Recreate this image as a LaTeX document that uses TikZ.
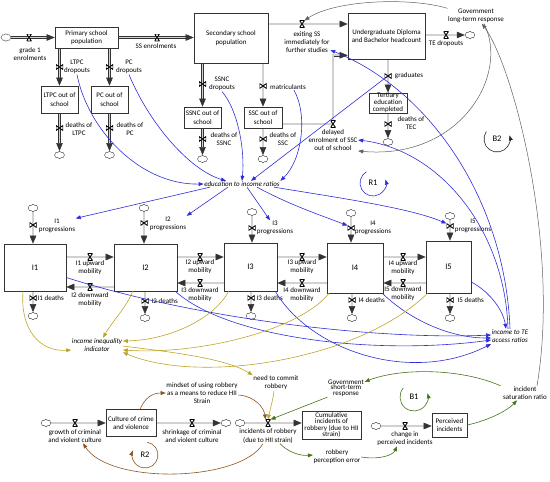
\documentclass[tikz,border=0pt]{standalone}
\usepackage{fontspec}
\setmainfont{Carlito}
\usetikzlibrary{arrows.meta,shapes.symbols,backgrounds}
\definecolor{edublue}{RGB}{45,45,215}
\definecolor{ineqolive}{RGB}{190,165,40}
\definecolor{crimebrown}{RGB}{140,85,30}
\definecolor{respgreen}{RGB}{70,115,25}
\definecolor{govgrey}{RGB}{95,95,95}

\begin{document}
\begin{tikzpicture}[x=1pt, y=-1pt,
  stock/.style={draw=black!80, line width=0.6pt, align=center, inner sep=0pt, font=\fontsize{7}{8.3}\selectfont},
  level/.style={stock, font=\fontsize{8.5}{10}\selectfont},
  lbl/.style={align=center, inner sep=0.5pt, font=\fontsize{7}{8.2}\selectfont},
  aux/.style={lbl, font=\fontsize{7}{8.2}\selectfont\itshape},
  sinkcloud/.style={cloud, cloud puffs=8, cloud puff arc=130, aspect=1.3, draw=black!75, line width=0.4pt, fill=white, minimum width=10pt, minimum height=7.5pt, inner sep=0pt},
  pipe/.style={draw=black!80, line width=0.5pt, double=black!18, double distance=1.9pt, -{Triangle[length=8pt,width=6.5pt]}},
  hvalve/.style={minimum width=5pt, minimum height=7pt, inner sep=0pt, outer sep=0pt,
    path picture={\filldraw[fill=white, draw=black, line width=0.9pt] (path picture bounding box.north west) -- (path picture bounding box.north east) -- (path picture bounding box.south west) -- (path picture bounding box.south east) -- cycle;}},
  vvalve/.style={minimum width=7pt, minimum height=5pt, inner sep=0pt, outer sep=0pt,
    path picture={\filldraw[fill=white, draw=black, line width=0.9pt] (path picture bounding box.north west) -- (path picture bounding box.south west) -- (path picture bounding box.north east) -- (path picture bounding box.south east) -- cycle;}},
  infl/.style={line width=0.6pt, -{Triangle[length=5pt,width=3.8pt]}},
  loopname/.style={font=\fontsize{8.5}{10}\selectfont, inner sep=1pt}
]
\useasboundingbox (0,0) rectangle (550,482);

% Loop circle radius
\def\rl{13pt}

% Education stocks
\node[stock, minimum width=63pt, minimum height=21pt] (pss) at (86.5,37.5) {Primary school\\population};
\node[stock, minimum width=74pt, minimum height=50pt] (ssp) at (231,38) {Secondary school\\population};
\node[stock, minimum width=77pt, minimum height=46pt] (ugb) at (386.5,36) {Undergraduate Diploma\\and Bachelor headcount};
\node[stock, minimum width=37pt, minimum height=27pt] (ltpc) at (59.5,99.5) {LTPC out of\\school};
\node[stock, minimum width=37pt, minimum height=27pt] (pcos) at (109.5,99.5) {PC out of\\school};
\node[stock, minimum width=37pt, minimum height=21pt] (ssnc) at (202.5,117.5) {SSNC out of\\school};
\node[stock, minimum width=38pt, minimum height=21pt] (sscos) at (263,117.5) {SSC out of\\school};
\node[stock, minimum width=38pt, minimum height=20pt, font=\fontsize{7}{7}\selectfont] (tec) at (388,103) {Tertiary\\education\\completed};

% Income level stocks
\node[level, minimum width=62pt, minimum height=47pt] (i1) at (35,267.5) {I1};
\node[level, minimum width=63pt, minimum height=47pt] (i2) at (145.5,267.5) {I2};
\node[level, minimum width=53pt, minimum height=48pt] (i3) at (250.5,267) {I3};
\node[level, minimum width=56pt, minimum height=50pt] (i4) at (355,268) {I4};
\node[level, minimum width=45pt, minimum height=52pt] (i5) at (448.5,267) {I5};

% Crime stocks
\node[stock, minimum width=50pt, minimum height=27pt] (ccv) at (131,423) {Culture of crime\\and violence};
\node[stock, minimum width=59pt, minimum height=28pt, font=\fontsize{7}{6.4}\selectfont] (cir) at (331.5,425) {Cumulative\\incidents of\\robbery (due to HII\\strain)};
\node[stock, minimum width=35pt, minimum height=24pt] (pinc) at (449.5,425) {Perceived\\incidents};

% Clouds
\node[sinkcloud] (c-g1) at (6,37.5) {};
\node[sinkcloud] (c-ted) at (470,35) {};
\node[sinkcloud] (c-dltpc) at (59.5,155) {};
\node[sinkcloud] (c-dpc) at (109.5,155) {};
\node[sinkcloud] (c-dssnc) at (202.5,159) {};
\node[sinkcloud] (c-dssc) at (263,159) {};
\node[sinkcloud] (c-dtec) at (388,142) {};
\node[sinkcloud] (c-i1p) at (33,208) {};
\node[sinkcloud] (c-i2p) at (144,208) {};
\node[sinkcloud] (c-i3p) at (252,212) {};
\node[sinkcloud] (c-i4p) at (351,213) {};
\node[sinkcloud] (c-i5p) at (450,216) {};
\node[sinkcloud] (c-i1x) at (33,316) {};
\node[sinkcloud] (c-i2x) at (145,318) {};
\node[sinkcloud] (c-i3x) at (251,316) {};
\node[sinkcloud] (c-i4x) at (352,318) {};
\node[sinkcloud] (c-i5x) at (450,318) {};
\node[sinkcloud] (c-gcv) at (46,423) {};
\node[sinkcloud] (c-scv) at (226,423) {};
\node[sinkcloud] (c-inc) at (240,423) {};
\node[sinkcloud] (c-cpi) at (376,426) {};

% Valves
\node[hvalve] (v-g1) at (29,37.5) {};
\node[hvalve] (v-ss) at (157,37.5) {};
\node[hvalve] (v-exit) at (302,24) {};
\node[hvalve] (v-ted) at (446,35) {};
\node[vvalve] (v-ltpcd) at (59.5,67) {};
\node[vvalve] (v-pcd) at (109.5,67) {};
\node[vvalve] (v-dltpc) at (59.5,128) {};
\node[vvalve] (v-dpc) at (109.5,128) {};
\node[vvalve] (v-ssncd) at (202.5,84) {};
\node[vvalve] (v-matr) at (263,86) {};
\node[vvalve] (v-dssnc) at (202.5,139) {};
\node[vvalve] (v-dssc) at (263,139) {};
\node[hvalve] (v-del) at (333,124) {};
\node[vvalve] (v-grad) at (388,76) {};
\node[vvalve] (v-dtec) at (388,124) {};
\node[vvalve] (v-i1p) at (33,225) {};
\node[vvalve] (v-i2p) at (144,223) {};
\node[vvalve] (v-i3p) at (252,228) {};
\node[vvalve] (v-i4p) at (351,228) {};
\node[vvalve] (v-i5p) at (450,226) {};
\node[hvalve] (v-i1u) at (90,257) {};
\node[hvalve] (v-i2d) at (90,287) {};
\node[hvalve] (v-i2u) at (200,257) {};
\node[hvalve] (v-i3d) at (200,283) {};
\node[hvalve] (v-i3u) at (302,257) {};
\node[hvalve] (v-i4d) at (302,283) {};
\node[hvalve] (v-i4u) at (403,257) {};
\node[hvalve] (v-i5d) at (403,283) {};
\node[vvalve] (v-i1x) at (33,298) {};
\node[vvalve] (v-i2x) at (145,301) {};
\node[vvalve] (v-i3x) at (251,298) {};
\node[vvalve] (v-i4x) at (352,300) {};
\node[vvalve] (v-i5x) at (450,300) {};
\node[hvalve] (v-gcv) at (75,423) {};
\node[hvalve] (v-scv) at (192,423) {};
\node[hvalve] (v-inc) at (268,423) {};
\node[hvalve] (v-cpi) at (405,426) {};

% Pipes
\begin{scope}[on background layer]
\draw[pipe] (c-g1.east) -- (pss.west |- c-g1);
\draw[pipe] (pss.east |- v-ss) -- (ssp.west |- v-ss);
\draw[pipe] (ssp.east |- v-exit) -- (ugb.west |- v-exit);
\draw[pipe] (ugb.east |- v-ted) -- (c-ted.west);
\draw[pipe] (pss.south -| v-ltpcd) -- (ltpc.north);
\draw[pipe] (pss.south -| v-pcd) -- (pcos.north);
\draw[pipe] (ltpc.south) -- (c-dltpc.north);
\draw[pipe] (pcos.south) -- (c-dpc.north);
\draw[pipe] (ssp.south -| v-ssncd) -- (ssnc.north);
\draw[pipe] (ssp.south -| v-matr) -- (sscos.north);
\draw[pipe] (ssnc.south) -- (c-dssnc.north);
\draw[pipe] (sscos.south) -- (c-dssc.north);
\coordinate (ugb-in) at ([yshift=4pt]ugb.south west);
\draw[pipe] (sscos.east |- v-del) -- (v-del.center) -- (v-del.center |- ugb-in) -- (ugb-in);
\draw[pipe] (ugb.south -| v-grad) -- (tec.north);
\draw[pipe] (tec.south) -- (c-dtec.north);
\draw[pipe] (c-i1p.south) -- (i1.north -| c-i1p);
\draw[pipe] (c-i2p.south) -- (i2.north -| c-i2p);
\draw[pipe] (c-i3p.south) -- (i3.north -| c-i3p);
\draw[pipe] (c-i4p.south) -- (i4.north -| c-i4p);
\draw[pipe] (c-i5p.south) -- (i5.north -| c-i5p);
\draw[pipe] (i1.east |- v-i1u) -- (i2.west |- v-i1u);
\draw[pipe] (i2.west |- v-i2d) -- (i1.east |- v-i2d);
\draw[pipe] (i2.east |- v-i2u) -- (i3.west |- v-i2u);
\draw[pipe] (i3.west |- v-i3d) -- (i2.east |- v-i3d);
\draw[pipe] (i3.east |- v-i3u) -- (i4.west |- v-i3u);
\draw[pipe] (i4.west |- v-i4d) -- (i3.east |- v-i4d);
\draw[pipe] (i4.east |- v-i4u) -- (i5.west |- v-i4u);
\draw[pipe] (i5.west |- v-i5d) -- (i4.east |- v-i5d);
\draw[pipe] (i1.south -| c-i1x) -- (c-i1x.north);
\draw[pipe] (i2.south -| c-i2x) -- (c-i2x.north);
\draw[pipe] (i3.south -| c-i3x) -- (c-i3x.north);
\draw[pipe] (i4.south -| c-i4x) -- (c-i4x.north);
\draw[pipe] (i5.south -| c-i5x) -- (c-i5x.north);
\draw[pipe] (c-gcv.east) -- (ccv.west |- c-gcv);
\draw[pipe] (ccv.east |- c-scv) -- (c-scv.west);
\draw[pipe] (c-inc.east) -- (cir.west |- c-inc);
\draw[pipe] (c-cpi.east) -- (pinc.west |- c-cpi);
\end{scope}

% Flow labels
\node[lbl] (l-g1) at (30,54) {grade 1\\enrolments};
\node[lbl] (l-ss) at (156,46) {SS enrolments};
\node[lbl] (l-exit) at (307,42) {exiting SS\\immediately for\\further studies};
\node[lbl] (l-ted) at (446,44) {TE dropouts};
\node[lbl] (l-ltpcd) at (77,67) {LTPC\\dropouts};
\node[lbl] (l-pcd) at (129,67) {PC\\dropouts};
\node[lbl] (l-dltpc) at (79,129) {deaths of\\LTPC};
\node[lbl] (l-dpc) at (130,129) {deaths of\\PC};
\node[lbl] (l-ssncd) at (222,84) {SSNC\\dropouts};
\node[lbl] (l-matr) at (288,87) {matriculants};
\node[lbl] (l-dssnc) at (224,139) {deaths of\\SSNC};
\node[lbl] (l-dssc) at (283,139) {deaths of\\SSC};
\node[lbl] (l-del) at (333,140) {delayed\\enrolment of SSC\\out of school};
\node[lbl] (l-grad) at (409,76) {graduates};
\node[lbl] (l-dtec) at (411,123) {deaths of\\TEC};
\node[lbl] (l-i1p) at (57,226) {I1\\progressions};
\node[lbl] (l-i2p) at (168,223.5) {I2\\progressions};
\node[lbl] (l-i3p) at (275,228) {I3\\progressions};
\node[lbl] (l-i4p) at (373,227.5) {I4\\progressions};
\node[lbl] (l-i5p) at (473,226) {I5\\progressions};
\node[lbl] (l-i1u) at (90,268) {I1 upward\\mobility};
\node[lbl] (l-i2d) at (90,299.5) {I2 downward\\mobility};
\node[lbl] (l-i2u) at (200,267) {I2 upward\\mobility};
\node[lbl] (l-i3d) at (200,294.5) {I3 downward\\mobility};
\node[lbl] (l-i3u) at (302,267) {I3 upward\\mobility};
\node[lbl] (l-i4d) at (302,294.5) {I4 downward\\mobility};
\node[lbl] (l-i4u) at (403,268) {I4 upward\\mobility};
\node[lbl] (l-i5d) at (403,294) {I5 downward\\mobility};
\node[lbl, anchor=west] (l-i1x) at (37,298) {I1 deaths};
\node[lbl, anchor=west] (l-i2x) at (151,301) {I2 deaths};
\node[lbl, anchor=west] (l-i3x) at (256,298) {I3 deaths};
\node[lbl, anchor=west] (l-i4x) at (358,300) {I4 deaths};
\node[lbl, anchor=west] (l-i5x) at (457,300) {I5 deaths};
\node[lbl] (l-gcv) at (75,436) {growth of criminal\\and violent culture};
\node[lbl] (l-scv) at (192,436) {shrinkage of criminal\\and violent culture};
\node[lbl] (l-inc) at (268,436) {incidents of robbery\\(due to HII strain)};
\node[lbl] (l-cpi) at (405,438.5) {change in\\perceived incidents};

% Auxiliary variables
\node[lbl] (gltr) at (476,16) {Government\\long-term response};
\node[aux] (eir) at (242,184) {education to income ratios};
\node[aux] (itr) at (510,336) {income to TE\\access ratios};
\node[aux] (iii) at (97,345) {income inequality\\indicator};
\node[lbl] (ncr) at (276,383) {need to commit\\robbery};
\node[lbl] (mind) at (202,393) {mindset of using robbery\\as a means to reduce HII\\Strain};
\node[lbl, font=\fontsize{7}{5.6}\selectfont] (gstr) at (346,388) {Government\\short-term\\response};
\node[lbl] (rpe) at (337,457) {robbery\\perception error};
\node[lbl] (isr) at (525,393) {incident\\saturation ratio};

% Loop markers
\node[loopname] (R1) at (373,183) {R1};
\node[loopname] (B2) at (497,139) {B2};
\node[loopname] (B1) at (414,397) {B1};
\node[loopname] (R2) at (145,455) {R2};
\draw[infl, edublue] (R1.center) ++(120:\rl) arc[start angle=120, end angle=375, radius=\rl];
\draw[infl, black!85] (B2.center) ++(145:\rl) arc[start angle=145, end angle=376, radius=\rl];
\draw[infl, respgreen] (B1.center) ++(140:14pt) arc[start angle=140, end angle=375, radius=14pt];
\draw[infl, crimebrown] (R2.center) ++(80:\rl) arc[start angle=80, end angle=-200, radius=\rl];

% Education to income ratios
\draw[infl, edublue] (l-ltpcd.south) .. controls (88,130) and (140,185) .. (eir.west);
\draw[infl, edublue] (l-pcd.south) .. controls (150,125) and (190,170) .. ([xshift=-16pt]eir.north);
\draw[infl, edublue] (l-ssncd.south) .. controls (238,110) and (245,150) .. (eir.north);
\draw[infl, edublue] ([xshift=6pt]l-matr.south) .. controls (308,115) and (302,160) .. (eir.north east);
\draw[infl, edublue] (v-grad.south west) -- ([xshift=9pt]eir.north);
\draw[infl, edublue] ([xshift=-32pt]eir.south) -- (l-i1p.north east);
\draw[infl, edublue] ([xshift=-14pt]eir.south) -- (l-i2p.north east);
\draw[infl, edublue] ([xshift=5pt]eir.south) -- ([xshift=-5pt]l-i3p.north);
\draw[infl, edublue] ([xshift=15pt]eir.south) .. controls (290,205) and (320,215) .. (v-i4p.north west);
\draw[infl, edublue] ([xshift=32pt]eir.south) .. controls (340,198) and (410,208) .. (v-i5p.north west);

% Income to TE access ratios
\draw[infl, edublue] (itr.north) .. controls (505,200) and (430,90) .. ([yshift=-8pt]l-exit.east);
\draw[infl, edublue] ([xshift=-2pt]itr.north) .. controls (505,230) and (440,150) .. (l-del.east);
\draw[infl, edublue] ([yshift=-10pt]i1.east) .. controls (200,320) and (380,340) .. ([yshift=1pt]itr.west);
\draw[infl, edublue] ([xshift=-2pt]i2.south east) .. controls (230,340) and (380,355) .. ([yshift=-4pt]itr.west);
\draw[infl, edublue] ([xshift=-2pt]i3.south east) .. controls (310,350) and (410,385) .. ([yshift=-8pt]itr.west);
\draw[infl, edublue] ([xshift=-1pt]i4.south east) .. controls (410,320) and (450,338) .. ([yshift=-2pt]itr.west);
\draw[infl, edublue] ([yshift=-15pt]i5.east) .. controls (490,292) and (503,310) .. ([xshift=-4pt]itr.north);

% Income inequality
\draw[infl, ineqolive] ([xshift=-12pt]i1.south) .. controls (20,330) and (40,352) .. ([yshift=-5pt]iii.west);
\draw[infl, ineqolive] ([xshift=-13pt]i2.south) .. controls (128,305) and (112,322) .. ([xshift=6pt]iii.north);
\draw[infl, ineqolive] ([xshift=-22pt]i3.south) .. controls (215,318) and (170,340) .. ([yshift=4pt]iii.east);
\draw[infl, ineqolive] ([xshift=-26pt]i4.south) .. controls (300,330) and (200,355) .. ([yshift=-5pt]iii.east);
\draw[infl, ineqolive] ([xshift=-21pt]i5.south) .. controls (360,360) and (200,385) .. (iii.south east);
\draw[infl, ineqolive] ([yshift=-1pt]iii.east) .. controls (170,352) and (225,358) .. (ncr.north west);
\draw[infl, ineqolive] ([xshift=-2pt]ncr.south) .. controls (273,400) and (270,410) .. (v-inc.north);

% Crime culture loop
\draw[infl, crimebrown] ([xshift=9pt]ccv.north) .. controls (145,398) and (152,393) .. (mind.west);
\draw[infl, crimebrown] ([yshift=-2pt]mind.east) .. controls (255,396) and (264,408) .. (v-inc.north west);
\draw[infl, crimebrown] ([xshift=-5pt]l-inc.south) .. controls (240,482) and (110,485) .. ([xshift=8pt]l-gcv.south);

% Short-term response loop
\draw[infl, respgreen] (gstr.south west) -- (v-inc.north east);
\draw[infl, respgreen] ([xshift=12pt]l-inc.south) .. controls (288,452) and (300,456) .. ([yshift=2pt]rpe.west);
\draw[infl, respgreen] (rpe.east) .. controls (380,460) and (393,455) .. ([xshift=-8pt]l-cpi.south);
\draw[infl, respgreen] (pinc.east) .. controls (490,420) and (508,410) .. ([xshift=-8pt]isr.south);
\draw[infl, respgreen] ([xshift=-2pt]isr.north west) .. controls (460,368) and (400,368) .. ([yshift=-3pt]gstr.north east);

% Long-term response
\draw[infl, govgrey, line width=0.5pt] ([xshift=12pt]isr.north) .. controls (560,250) and (515,70) .. ([xshift=6pt]gltr.south);
\draw[infl, govgrey, line width=0.5pt] (gltr.north west) .. controls (410,-3) and (335,0) .. (v-exit.north east);
\draw[infl, govgrey, line width=0.5pt] ([xshift=8pt]gltr.south) .. controls (510,75) and (460,160) .. ([yshift=-11pt]l-del.east);
\end{tikzpicture}
\end{document}
